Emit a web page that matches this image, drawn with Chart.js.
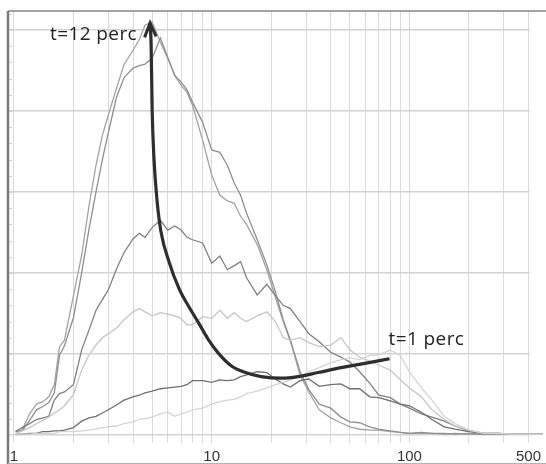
<!DOCTYPE html>
<html>
<head>
<meta charset="utf-8">
<script src="https://cdn.jsdelivr.net/npm/chart.js@4.4.1/dist/chart.umd.min.js"></script>
<style>
  html, body { margin: 0; padding: 0; background: #fff; overflow: hidden; }
</style>
</head>
<body>
<canvas id="chart" width="546" height="464"></canvas>
<script>
// bin centres (log x axis)
const BINS = [1.02, 1.1, 1.2, 1.3, 1.4, 1.5, 1.6, 1.7, 1.8, 2, 2.2, 2.4, 2.6, 2.8, 3, 3.3, 3.6, 4, 4.3, 4.6,
  5, 5.5, 6, 6.5, 7, 7.5, 8, 9, 10, 11, 12, 13, 14, 15, 17, 19, 21, 23, 25, 28, 31, 35, 40, 45, 50, 56, 63, 70,
  80, 90, 100, 115, 130, 150, 170, 200, 240, 280, 330, 400, 470]

// distributions, one per time step
const seriesA = [0.05, 0.06, 0.26, 0.38, 0.41, 0.47, 0.62, 1.09, 1.17, 1.72, 2.22, 2.84, 3.33, 3.70, 3.95, 4.28, 4.57,
  4.75, 4.88, 5.06, 5.10, 4.85, 4.65, 4.44, 4.32, 4.23, 4.07, 3.64, 3.21, 2.96, 2.89, 2.86, 2.70, 2.60, 2.35, 2.04,
  1.70, 1.40, 1.16, 0.74, 0.53, 0.31, 0.21, 0.15, 0.10, 0.07, 0.06, 0.06, 0.04, 0.03, 0.02, 0.02, 0.02, 0.01, 0.02,
  0.01, 0.01, 0.02, 0.01, 0.01, 0.01]
const seriesB = [0.04, 0.05, 0.18, 0.31, 0.35, 0.40, 0.52, 0.98, 1.10, 1.45, 2.00, 2.55, 3.00, 3.40, 3.73, 4.17, 4.41,
  4.53, 4.56, 4.58, 4.65, 4.90, 4.66, 4.44, 4.36, 4.26, 4.11, 3.86, 3.52, 3.49, 3.33, 3.11, 2.96, 2.74, 2.41, 2.10,
  1.77, 1.42, 1.17, 0.78, 0.56, 0.38, 0.33, 0.22, 0.16, 0.15, 0.10, 0.07, 0.05, 0.03, 0.02, 0.03, 0.02, 0.02, 0.01,
  0.02, 0.01, 0.01, 0.01, 0.01, 0.01]
const seriesC = [0.04, 0.09, 0.14, 0.19, 0.21, 0.23, 0.43, 0.51, 0.53, 0.62, 1.05, 1.30, 1.54, 1.67, 1.79, 2.05, 2.25,
  2.42, 2.49, 2.44, 2.56, 2.65, 2.53, 2.58, 2.53, 2.44, 2.41, 2.37, 2.12, 2.21, 2.04, 2.09, 2.14, 1.94, 1.73, 1.86,
  1.72, 1.60, 1.56, 1.40, 1.25, 1.15, 1.02, 0.96, 0.90, 0.78, 0.64, 0.49, 0.46, 0.38, 0.33, 0.26, 0.22, 0.17, 0.11,
  0.05, 0.02, 0.02, 0.01, 0.01, 0.01]
const seriesD = [0.02, 0.05, 0.09, 0.14, 0.18, 0.22, 0.27, 0.31, 0.36, 0.50, 0.80, 0.99, 1.11, 1.20, 1.25, 1.32, 1.42,
  1.52, 1.56, 1.52, 1.47, 1.51, 1.49, 1.47, 1.44, 1.36, 1.36, 1.46, 1.44, 1.54, 1.44, 1.51, 1.44, 1.40, 1.47, 1.52,
  1.40, 1.20, 1.17, 1.20, 1.14, 1.09, 1.11, 1.20, 1.05, 0.96, 0.91, 0.86, 0.80, 0.68, 0.58, 0.47, 0.31, 0.19, 0.11,
  0.06, 0.02, 0.02, 0.01, 0.01, 0.01]
const seriesE = [0.01, 0.01, 0.02, 0.02, 0.04, 0.04, 0.05, 0.05, 0.06, 0.09, 0.17, 0.21, 0.23, 0.27, 0.31, 0.37, 0.43,
  0.47, 0.49, 0.52, 0.54, 0.57, 0.58, 0.59, 0.60, 0.62, 0.67, 0.67, 0.65, 0.68, 0.67, 0.68, 0.72, 0.74, 0.78, 0.77,
  0.69, 0.63, 0.59, 0.67, 0.69, 0.60, 0.62, 0.63, 0.57, 0.57, 0.47, 0.46, 0.42, 0.38, 0.36, 0.28, 0.19, 0.10, 0.07,
  0.04, 0.02, 0.02, 0.01, 0.01, 0.01]
const seriesF = [0.01, 0.01, 0.01, 0.02, 0.02, 0.02, 0.02, 0.04, 0.04, 0.04, 0.05, 0.06, 0.07, 0.09, 0.10, 0.11, 0.14,
  0.16, 0.19, 0.20, 0.22, 0.26, 0.28, 0.23, 0.26, 0.28, 0.31, 0.33, 0.38, 0.41, 0.43, 0.44, 0.47, 0.51, 0.54, 0.58,
  0.62, 0.65, 0.68, 0.73, 0.78, 0.83, 0.89, 0.93, 0.95, 0.93, 0.98, 0.99, 1.05, 0.98, 0.78, 0.58, 0.43, 0.23, 0.14,
  0.06, 0.02, 0.02, 0.01, 0.01, 0.01]

// path of the peak, from t=12 perc down to t=1 perc
const peakX = [4.88, 4.94, 5.0, 5.11, 5.29, 5.54, 6.08, 6.83, 7.94, 8.6, 9.66, 10.8, 12.6, 14.8, 17.8, 22.5, 27.4,
  34.5, 45.0, 61.5, 79.3]
const peakY = [5.07, 4.81, 4.01, 3.40, 2.90, 2.51, 2.14, 1.81, 1.52, 1.38, 1.17, 1.01, 0.85, 0.77, 0.72, 0.70, 0.72,
  0.77, 0.83, 0.89, 0.94]

const X_GRID = [1, 2, 3, 4, 5, 6, 7, 8, 9, 10, 20, 30, 40, 50, 60, 70, 80, 90, 100, 200, 300, 400]
const X_TICK_VALUES = [1, 10, 100, 400]
const X_TICK_TEXT = ['1', '10', '100', '500']
const Y_GRID = [0, 1, 2, 3, 4, 5]

const greySeries = [
  { data: seriesF, color: '#d4d4d4' },
  { data: seriesD, color: '#c6c6c6' },
  { data: seriesE, color: '#6e6e6e' },
  { data: seriesC, color: '#808080' },
  { data: seriesB, color: '#8f8f8f' },
  { data: seriesA, color: '#a3a3a3' }
]

const datasets = greySeries.map(s => ({
  data: BINS.map((x, i) => ({ x: x, y: s.data[i] })),
  borderColor: s.color,
  borderWidth: 1.3,
  pointRadius: 0,
  tension: 0,
  clip: false,
  order: 1
}))

datasets.push({
  data: peakX.map((x, i) => ({ x: x, y: peakY[i] })),
  borderColor: '#2e2e2e',
  borderWidth: 3.2,
  pointRadius: 0,
  tension: 0.4,
  cubicInterpolationMode: 'monotone',
  clip: false,
  order: 0
})

// frame, minor ticks on the left axis, arrow head and the two labels
const decorations = {
  id: 'decorations',
  afterDraw(chart) {
    const { ctx, chartArea, scales } = chart
    ctx.save()

    ctx.strokeStyle = '#7a7a7a'
    ctx.lineWidth = 2.5
    ctx.beginPath()
    ctx.moveTo(chartArea.left, chartArea.top)
    ctx.lineTo(chartArea.left, chart.height)
    ctx.stroke()

    ctx.lineWidth = 1.6
    ctx.strokeStyle = '#858585'
    ctx.beginPath()
    ctx.moveTo(chartArea.left, chartArea.top)
    ctx.lineTo(chart.width, chartArea.top)
    ctx.stroke()

    ctx.lineWidth = 1
    ctx.strokeStyle = '#b5b5b5'
    ctx.beginPath()
    ctx.moveTo(chartArea.left, chart.height - 0.5)
    ctx.lineTo(chart.width, chart.height - 0.5)
    ctx.stroke()

    ctx.strokeStyle = '#cccccc'
    ctx.lineWidth = 1
    for (let v = 0.2; v < scales.y.max; v += 0.2) {
      const y = Math.round(scales.y.getPixelForValue(v)) + 0.5
      ctx.beginPath()
      ctx.moveTo(chartArea.left + 1, y)
      ctx.lineTo(chartArea.left + 4, y)
      ctx.stroke()
    }

    const first = chart.getDatasetMeta(datasets.length - 1).data[0]
    const last = chart.getDatasetMeta(datasets.length - 1).data[peakX.length - 1]

    ctx.strokeStyle = '#2e2e2e'
    ctx.lineWidth = 3
    ctx.lineJoin = 'miter'
    ctx.beginPath()
    ctx.moveTo(first.x - 5.5, first.y + 13)
    ctx.lineTo(first.x, first.y - 1.5)
    ctx.lineTo(first.x + 6, first.y + 12)
    ctx.stroke()

    ctx.fillStyle = '#222222'
    ctx.font = '19px "Open Sans"'
    ctx.letterSpacing = '0.4px'
    ctx.textBaseline = 'alphabetic'
    ctx.textAlign = 'right'
    ctx.fillText('t=12 perc', first.x - 13, first.y + 16)
    ctx.textAlign = 'left'
    ctx.fillText('t=1 perc', last.x - 1, last.y - 14)

    ctx.restore()
  }
}

new Chart(document.getElementById('chart'), {
  type: 'line',
  data: { datasets: datasets },
  options: {
    responsive: false,
    animation: false,
    layout: { padding: { left: 8, right: 13, top: 11, bottom: 0 } },
    plugins: {
      legend: { display: false },
      tooltip: { enabled: false }
    },
    scales: {
      x: {
        type: 'logarithmic',
        min: 0.933,
        max: 405,
        afterBuildTicks: s => { s.ticks = X_GRID.map(v => ({ value: v })) },
        afterFit: s => { s.height = 21 },
        border: { display: false },
        grid: { color: '#dadada', lineWidth: 1, drawTicks: false },
        ticks: {
          autoSkip: false,
          maxRotation: 0,
          padding: 5,
          color: '#333333',
          font: { family: '"Liberation Sans", Arial, sans-serif', size: 15 },
          callback: value => {
            const i = X_TICK_VALUES.indexOf(value)
            return i >= 0 ? X_TICK_TEXT[i] : ''
          }
        }
      },
      y: {
        min: -0.1,
        max: 5.235,
        afterBuildTicks: s => { s.ticks = Y_GRID.map(v => ({ value: v })) },
        afterFit: s => { s.width = 0 },
        border: { display: false },
        grid: { color: '#d3d3d3', lineWidth: 1.5, drawTicks: false },
        ticks: { display: false }
      }
    }
  },
  plugins: [decorations]
})
</script>
</body>
</html>
